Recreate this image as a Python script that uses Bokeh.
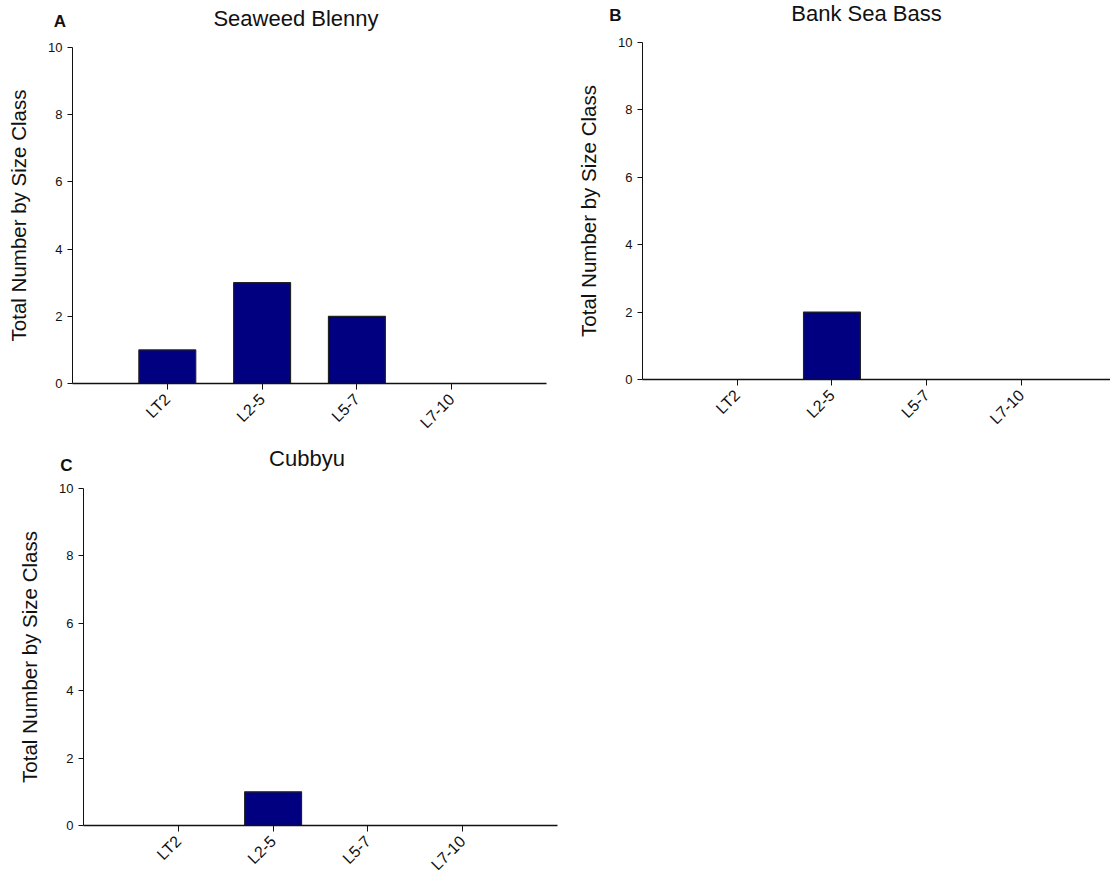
import math
from bokeh.plotting import figure
from bokeh.layouts import column, row
from bokeh.models import FixedTicker, Label, Range1d
from bokeh.embed import file_html
from bokeh.resources import INLINE

categories = ["LT2", "L2-5", "L5-7", "L7-10"]
seaweed_blenny = [1, 3, 2, 0]
bank_sea_bass = [0, 2, 0, 0]
cubbyu = [0, 1, 0, 0]
y_ticks = [0, 2, 4, 6, 8, 10]
titles = ["Seaweed Blenny", "Bank Sea Bass", "Cubbyu"]
letters = ["A", "B", "C"]

FONT = "Liberation Sans"
BAR_COLOR = "#000080"
INK = "#111111"


def panel(values, width, height, borders, xmax):
    bl, br, bt, bb = borders
    p = figure(width=width, height=height, output_backend="svg", toolbar_location=None,
               x_range=Range1d(-1, xmax), y_range=Range1d(0, 10), frame_align=False,
               min_border_left=bl, min_border_right=br, min_border_top=bt, min_border_bottom=bb)
    p.outline_line_color = None
    p.grid.visible = False
    xs = list(range(len(categories)))
    p.vbar(x=xs, top=values, width=0.6, bottom=0, fill_color=BAR_COLOR,
           line_color="#222222", line_width=1.2)

    xa = p.xaxis[0]
    xa.ticker = FixedTicker(ticks=xs)
    xa.major_label_overrides = {i: c for i, c in enumerate(categories)}
    xa.major_label_orientation = math.pi / 4
    xa.major_label_text_font = FONT
    xa.major_label_text_font_size = "16px"
    xa.major_label_text_color = INK
    xa.major_label_standoff = 7
    xa.minor_tick_line_color = None
    xa.major_tick_in = 0
    xa.major_tick_out = 6
    xa.axis_line_color = INK
    xa.major_tick_line_color = INK
    xa.axis_line_width = 1.5

    ya = p.yaxis[0]
    ya.ticker = FixedTicker(ticks=y_ticks)
    ya.major_label_text_font = FONT
    ya.major_label_text_font_size = "13px"
    ya.major_label_text_color = INK
    ya.major_label_standoff = 5
    ya.minor_tick_line_color = None
    ya.major_tick_in = 0
    ya.major_tick_out = 5
    ya.axis_line_color = INK
    ya.major_tick_line_color = INK
    ya.axis_label = "Total Number by Size Class"
    ya.axis_label_text_font = FONT
    ya.axis_label_text_font_size = "20.5px"
    ya.axis_label_text_font_style = "normal"
    ya.axis_label_text_color = INK
    ya.axis_label_standoff = 15
    return p


def header(width, height, items):
    h = figure(width=width, height=height, output_backend="svg", toolbar_location=None,
               x_range=Range1d(0, width), y_range=Range1d(0, height), frame_align=False,
               x_axis_location=None, y_axis_location=None,
               min_border_left=0, min_border_right=0, min_border_top=0, min_border_bottom=0)
    h.outline_line_color = None
    h.grid.visible = False
    for text, x, y, size, style in items:
        h.add_layout(Label(x=x, y=y, x_units="screen", y_units="screen", text=text,
                           text_font=FONT, text_font_size=size, text_font_style=style,
                           text_align="center", text_baseline="middle", text_color=INK))
    return h


H = 36
head1 = header(1110, H, [
    (titles[0], 295.5, H - 18, "22px", "normal"),
    (letters[0], 59.5, H - 21, "17px", "bold"),
    (titles[1], 866, H - 13, "22px", "normal"),
    (letters[1], 615, H - 15, "17px", "bold"),
])
head2 = header(560, H, [
    (titles[2], 306.5, H - 18, "22px", "normal"),
    (letters[2], 66, H - 25, "17px", "bold"),
])

pA = panel(seaweed_blenny, 560, 440 - H, (72, 14, 47 - H, 56), 4.0)
pB = panel(bank_sea_bass, 550, 440 - H, (82, 0, 42 - H, 61), 3.94)
pC = panel(cubbyu, 560, 442 - H, (83, 3, 488 - 440 - H, 57), 4.0)

layout = column(head1, row(pA, pB, spacing=0), head2, pC, spacing=0)
open("out.html", "w").write(file_html(layout, INLINE))
